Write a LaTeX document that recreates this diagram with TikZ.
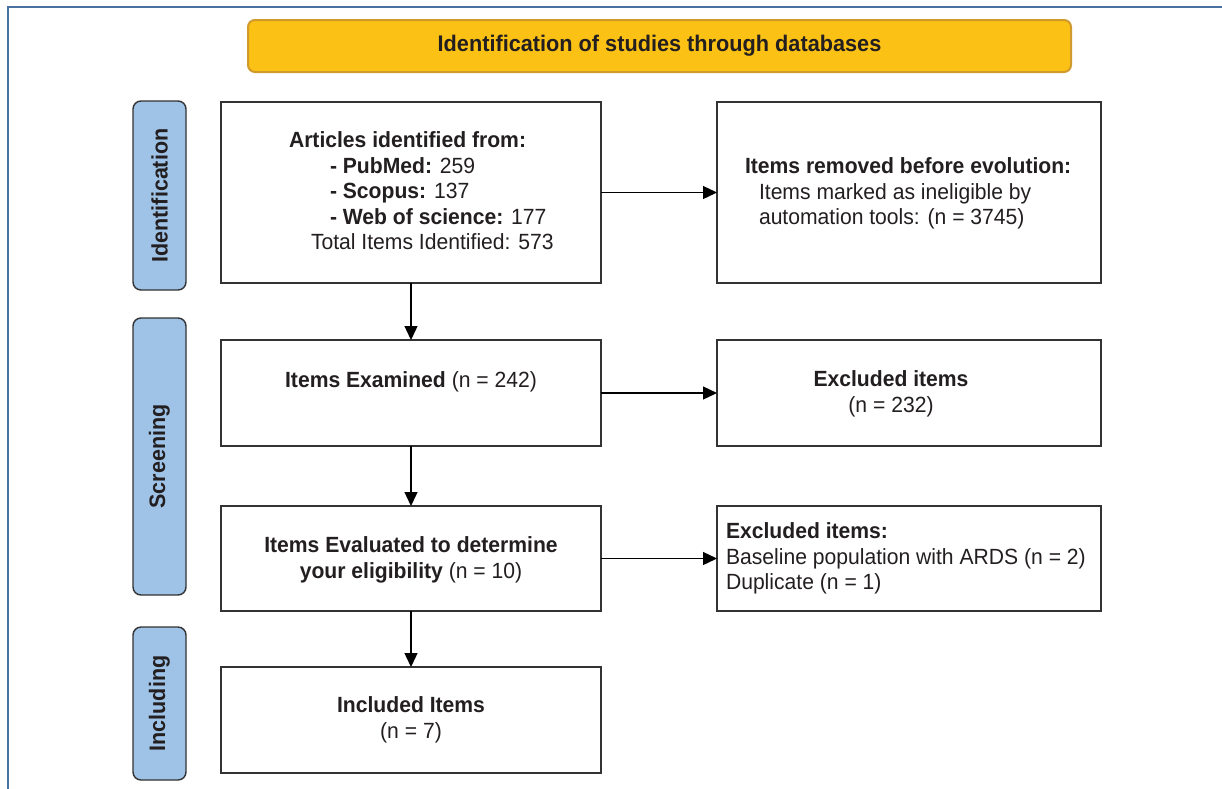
\documentclass[tikz,border=0pt]{standalone}
\usepackage{fontspec}
\setmainfont{Liberation Sans}[FakeStretch=0.96]
\usetikzlibrary{arrows.meta}
\definecolor{framec}{HTML}{4A72A0}
\definecolor{hdrfill}{HTML}{FBC115}
\definecolor{hdrline}{HTML}{D09A2C}
\definecolor{phasefill}{HTML}{9FC3E7}
\definecolor{ink}{HTML}{231F20}
\definecolor{boxline}{HTML}{333333}
\begin{document}
\begin{tikzpicture}[x=1pt,y=-1pt,
  every node/.style={font=\fontsize{22}{25.5}\selectfont, text=ink},
  flowbox/.style={draw=boxline, line width=1.4pt, fill=white, rectangle, outer sep=0pt, inner sep=0pt},
  phase/.style={draw=boxline, line width=1.4pt, fill=phasefill, rounded corners=8pt, rotate=90, minimum height=53pt, inner sep=0pt, font=\fontsize{22.4}{25.5}\selectfont},
  header/.style={draw=hdrline, line width=2pt, fill=hdrfill, rounded corners=7pt, minimum width=823pt, minimum height=52pt, inner sep=0pt, font=\fontsize{22.6}{25.5}\selectfont},
  txt/.style={inner sep=0pt, outer sep=0pt},
  flow/.style={line width=1.3pt, draw=black, -{Triangle[length=14pt,width=13pt]}}
]
\useasboundingbox (0,0) rectangle (1222,788);
\fill[white] (0,0) rectangle (1222,788);
% outer frame
\draw[framec, line width=2pt] (8,790) -- (8,7) -- (1224,7);

% header
\node[header] (hdr) at (659.5,46) {\textbf{Identification of studies through databases}};

% phase labels
\node[phase, minimum width=189pt] (pid) at (159.5,195.5) {\textbf{Identification}};
\node[phase, minimum width=277pt] (psc) at (159.5,456.5) {\textbf{Screening}};
\node[phase, minimum width=153pt] (pin) at (159.5,703.5) {\textbf{Including}};

% boxes
\node[flowbox, minimum width=380pt, minimum height=181pt] (art) at (411,192.5) {};
\node[flowbox, minimum width=384pt, minimum height=181pt] (rem) at (909,192.5) {};
\node[flowbox, minimum width=380pt, minimum height=106pt] (exa) at (411,393) {};
\node[flowbox, minimum width=384pt, minimum height=106pt] (exc) at (909,393) {};
\node[flowbox, minimum width=380pt, minimum height=105pt] (eva) at (411,558.5) {};
\node[flowbox, minimum width=384pt, minimum height=105pt] (exd) at (909,558.5) {};
\node[flowbox, minimum width=380pt, minimum height=106pt] (inc) at (411,720) {};

% texts
\node[txt, align=left, anchor=north west] (tart) at (289,132)
  {\textbf{Articles identified from:}\\
   \hspace*{41pt}\textbf{- PubMed:} 259\\
   \hspace*{41pt}\textbf{- Scopus:} 137\\
   \hspace*{41pt}\textbf{- Web of science:} 177\\
   \hspace*{22pt}Total Items Identified: 573};
\node[txt, align=left, anchor=north west] (trem) at (745,158)
  {\textbf{Items removed before evolution:}\\
   \hspace*{14pt}Items marked as ineligible by\\
   \hspace*{14pt}automation tools: (n = 3745)};
\node[txt, anchor=base] (texa) at (411,387) {\textbf{Items Examined} (n = 242)};
\node[txt, align=center, anchor=north] (texc) at (891,371) {\textbf{Excluded items}\\(n = 232)};
\node[txt, align=center, anchor=north] (teva) at (411,537) {\textbf{Items Evaluated to determine}\\\textbf{your eligibility} (n = 10)};
\node[txt, align=left, anchor=north west] (texd) at (726,523)
  {\textbf{Excluded items:}\\
   Baseline population with ARDS (n = 2)\\
   Duplicate (n = 1)};
\node[txt, align=center, anchor=north] (tinc) at (411,697) {\textbf{Included Items}\\(n = 7)};

% connectors
\draw[flow] (art) -- (rem);
\draw[flow] (exa) -- (exc);
\draw[flow] (eva) -- (exd);
\draw[flow] (art) -- (exa);
\draw[flow] (exa) -- (eva);
\draw[flow] (eva) -- (inc);
\end{tikzpicture}
\end{document}
